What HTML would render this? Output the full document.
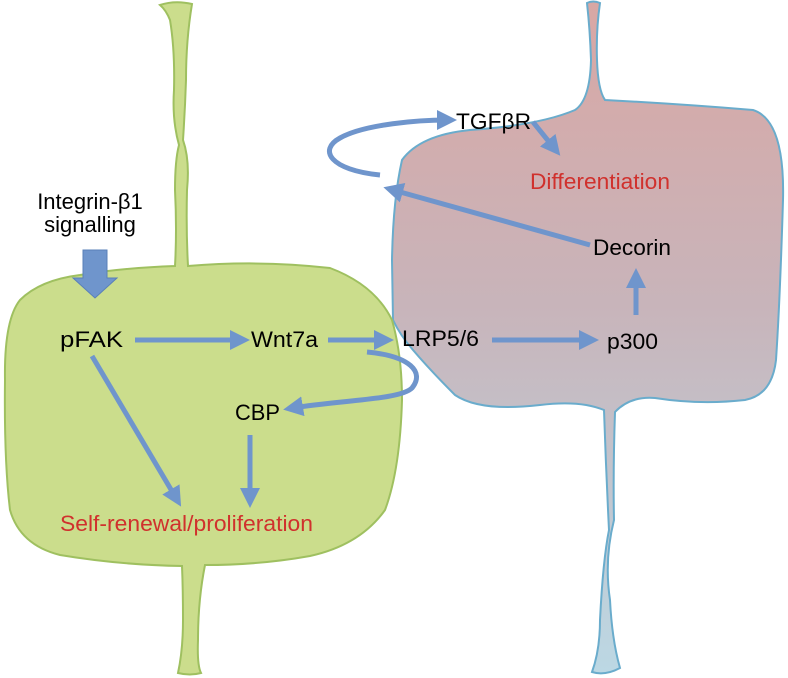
<!DOCTYPE html>
<html><head><meta charset="utf-8"><style>
html,body{margin:0;padding:0;background:#fff;}
svg{display:block;}
text{font-family:"Liberation Sans",sans-serif;font-size:22px;}
</style></head><body>
<svg width="788" height="678" viewBox="0 0 788 678" xmlns="http://www.w3.org/2000/svg">
<defs>
<linearGradient id="bg" x1="0" y1="0" x2="0" y2="1">
<stop offset="0" stop-color="#d9a7a4"/>
<stop offset="0.45" stop-color="#c8b4ba"/>
<stop offset="1" stop-color="#bcd8e4"/>
</linearGradient>
<marker id="ah" markerWidth="4" markerHeight="4" refX="2" refY="2" orient="auto" markerUnits="strokeWidth">
<path d="M0,0 L4,2 L0,4 z" fill="#6f95cc"/>
</marker>
</defs>
<path d="M587,3 Q593,0 600,3 Q596,30 597,60 Q598,90 605,100 Q680,104 753,110 Q785,120 783,200 Q780,300 776,360 Q772,395 745,400 Q700,405 655,398 Q630,396 615,412 Q613,470 614,520 Q604,560 610,600 Q612,640 620,668 Q605,676 592,672 Q600,650 600,620 Q603,560 609,530 Q606,470 604,410 Q580,400 540,405 Q480,412 455,395 Q430,370 413,350 Q400,335 393,320 L392,260 Q393,200 402,160 Q420,135 470,130 Q540,125 575,110 Q590,100 591,60 Q590,30 587,3 Z" fill="url(#bg)" stroke="#6aaccc" stroke-width="2"/>
<path d="M160,5 Q175,0 192,4 Q186,40 186,80 Q185,110 183,140 Q190,160 187,190 Q186,230 188,266 Q260,260 330,268 Q375,285 392,320 Q402,355 402,400 Q400,470 385,510 Q360,545 310,556 Q260,565 205,565 Q198,600 198,640 Q197,665 201,673 Q190,676 178,673 Q183,650 183,620 Q183,590 182,566 Q120,565 60,555 Q20,545 10,510 Q4,460 5,380 Q4,320 20,300 Q40,280 80,275 Q120,268 175,266 Q177,230 175,190 Q175,160 179,145 Q172,120 174,90 Q175,50 170,20 Q166,10 160,5 Z" fill="#cbdd8c" stroke="#9fc060" stroke-width="2"/>
<path d="M83,250 L107,250 L107,278 L117,278 L95,298 L73,278 L83,278 Z" fill="#6f95cc" stroke="#5a80b8" stroke-width="1"/>
<g stroke="#6f95cc" stroke-width="5" fill="none" stroke-linecap="butt">
<path d="M135,340 L240,340" marker-end="url(#ah)"/>
<path d="M328,340 L384,340" marker-end="url(#ah)"/>
<path d="M492,340 L589,340" marker-end="url(#ah)"/>
<path d="M636,315 L636,278" marker-end="url(#ah)"/>
<path d="M590,245 L393,190" marker-end="url(#ah)"/>
<path d="M380,175 C330,170 318,150 340,138 C365,124 420,120 447,120" marker-end="url(#ah)"/>
<path d="M533,122 L554,148" marker-end="url(#ah)"/>
<path d="M367,352 C410,356 425,372 412,388 C400,400 340,400 293,408" marker-end="url(#ah)"/>
<path d="M92,356 L176,498" marker-end="url(#ah)"/>
<path d="M250,435 L250,498" marker-end="url(#ah)"/>
</g>
<g fill="#000">
<text x="90" y="209" text-anchor="middle" font-size="21">Integrin-β1</text>
<text x="90" y="232" text-anchor="middle" font-size="21">signalling</text>
<text x="60" y="347" textLength="63" lengthAdjust="spacingAndGlyphs">pFAK</text>
<text x="251" y="347" textLength="67" lengthAdjust="spacingAndGlyphs">Wnt7a</text>
<text x="402" y="346" textLength="77" lengthAdjust="spacingAndGlyphs">LRP5/6</text>
<text x="607" y="349" textLength="51" lengthAdjust="spacingAndGlyphs">p300</text>
<text x="235" y="420" textLength="45" lengthAdjust="spacingAndGlyphs">CBP</text>
<text x="456" y="129" textLength="75" lengthAdjust="spacingAndGlyphs">TGFβR</text>
<text x="593" y="255" textLength="78" lengthAdjust="spacingAndGlyphs">Decorin</text>
</g>
<g fill="#d0312d">
<text x="60" y="531" textLength="253" lengthAdjust="spacingAndGlyphs">Self-renewal/proliferation</text>
<text x="530" y="189" textLength="140" lengthAdjust="spacingAndGlyphs">Differentiation</text>
</g>
</svg>
</body></html>
